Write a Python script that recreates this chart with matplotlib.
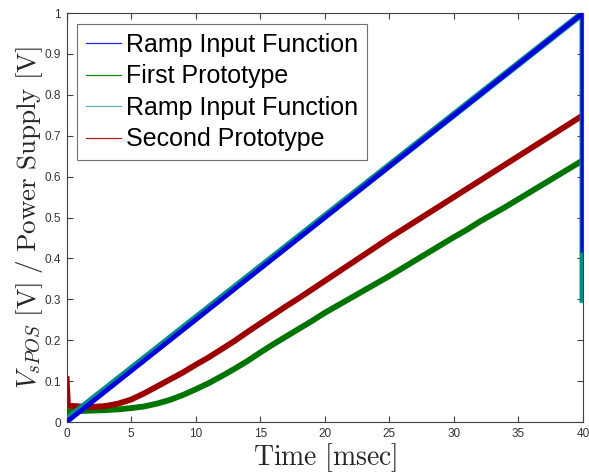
import numpy as np
import matplotlib
matplotlib.use("Agg")
import matplotlib.pyplot as plt

# values (time in msec, voltage ratio)
ramp_t = [0, 40, 40]
ramp_v = [0.0, 1.0, 0.42]
ramp2_t = [0, 40, 40]
ramp2_v = [0.006, 1.0, 0.30]

proto_t = [0, 0.1, 1, 2, 3, 4, 5, 6, 7, 8, 9, 10, 11, 12, 13, 14, 15, 16, 17, 18, 19, 20,
           21, 22, 23, 24, 25, 26, 27, 28, 29, 30, 31, 32, 33, 34, 35, 36, 37, 38, 39, 40]
first_v = [0.025, 0.026, 0.027, 0.028, 0.029, 0.031, 0.034, 0.038, 0.045, 0.054, 0.066,
           0.080, 0.095, 0.112, 0.130, 0.149, 0.170, 0.190, 0.209, 0.228, 0.247, 0.267,
           0.285, 0.303, 0.321, 0.339, 0.357, 0.376, 0.395, 0.414, 0.433, 0.452, 0.470,
           0.490, 0.508, 0.526, 0.545, 0.564, 0.583, 0.602, 0.621, 0.640]
second_v = [0.105, 0.040, 0.038, 0.037, 0.039, 0.045, 0.055, 0.070, 0.087, 0.104, 0.121,
            0.140, 0.158, 0.178, 0.198, 0.220, 0.241, 0.262, 0.283, 0.303, 0.324, 0.345,
            0.366, 0.387, 0.408, 0.429, 0.450, 0.470, 0.490, 0.510, 0.530, 0.550, 0.570,
            0.590, 0.610, 0.630, 0.650, 0.670, 0.690, 0.710, 0.730, 0.750]

labels = ["Ramp Input Function", "First Prototype", "Ramp Input Function", "Second Prototype"]
colors = ["#0000DD", "#007400", "#008C8C", "#9C0000"]
legend_colors = ["#2222DD", "#118811", "#55B5B5", "#B02222"]

plt.rcParams["mathtext.fontset"] = "cm"

fig = plt.figure(figsize=(5.89, 4.73), dpi=100)
ax = fig.add_axes([0.1132, 0.1078, 0.8766, 0.8647])

l1, = ax.plot(ramp_t, ramp_v, color=colors[0], lw=3.4, zorder=4, label=labels[0])
l2, = ax.plot(proto_t, first_v, color=colors[1], lw=4.2, zorder=2, label=labels[1])
l3, = ax.plot(ramp2_t, ramp2_v, color=colors[2], lw=5.0, zorder=3, label=labels[2])
l4, = ax.plot(proto_t, second_v, color=colors[3], lw=4.2, zorder=2, label=labels[3])

ax.set_xlim(0, 40)
ax.set_ylim(0, 1)
ax.set_xticks(np.arange(0, 41, 5))
ax.set_yticks(np.arange(0, 1.01, 0.1))
ax.set_yticklabels(["0", "0.1", "0.2", "0.3", "0.4", "0.5", "0.6", "0.7", "0.8", "0.9", "1"])
ax.tick_params(direction="in", top=True, right=True, labelsize=8.5, colors="#404040",
               labelcolor="#333333", length=4, width=0.8, pad=4)
for lab in ax.get_xticklabels() + ax.get_yticklabels():
    lab.set_fontfamily("Liberation Sans")
for sp in ax.spines.values():
    sp.set_color("#404040")
    sp.set_linewidth(0.8)

ax.set_xlabel(r"$\mathrm{Time\ [msec]}$", fontsize=20, color="#262626", labelpad=1)
ax.set_ylabel(r"$V_{sPOS}\ \mathrm{[V]\ /\ Power\ Supply\ [V]}$", fontsize=19.5,
              color="#262626", labelpad=0)

leg = ax.legend(handles=[l1, l2, l3, l4], loc="upper left", bbox_to_anchor=(0.02, 0.973),
                borderaxespad=0, prop={"family": "Liberation Sans", "size": 18},
                fancybox=False, framealpha=1, edgecolor="#707070",
                handlelength=1.4, handletextpad=0.2, labelspacing=0.3, borderpad=0.35)
leg.get_frame().set_linewidth(0.8)
for h, c in zip(leg.legend_handles, legend_colors):
    h.set_linewidth(0.9)
    h.set_color(c)

fig.savefig("out.png", dpi=100)
